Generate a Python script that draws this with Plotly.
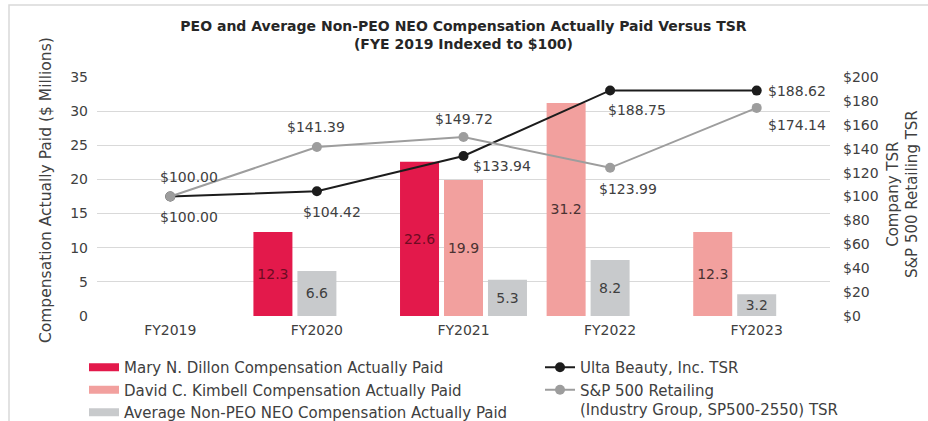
import plotly.graph_objects as go

years = ["FY2019", "FY2020", "FY2021", "FY2022", "FY2023"]

# compensation actually paid ($ millions)
dillon_years = ["FY2020", "FY2021"]
dillon_cap = [12.3, 22.6]
kimbell_years = ["FY2021", "FY2022", "FY2023"]
kimbell_cap = [19.9, 31.2, 12.3]
neo_years = ["FY2020", "FY2021", "FY2022", "FY2023"]
neo_cap = [6.6, 5.3, 8.2, 3.2]

# TSR, FYE 2019 indexed to $100
ulta_tsr = [100.00, 104.42, 133.94, 188.75, 188.62]
sp_tsr = [100.00, 141.39, 149.72, 123.99, 174.14]

# bar layout (category units)
bw = 0.266
step = 0.30
dillon_shift = [-step, -step]
kimbell_shift = [0, -step, -step]
neo_shift = [0, step, 0, 0]

# data label nudges in px
ulta_dx = [19, 15, 38, 27, 40]
ulta_dy = [-20, -21, -10, -20, 0]
sp_dx = [19, -1, 0, 18, 40]
sp_dy = [20, 20, 18, -21, -17]

FONT = "DejaVu Sans"
TXT = "#404040"
C_DILLON = "#E3194B"
C_KIMBELL = "#F2A09E"
C_NEO = "#C8CACC"
C_ULTA = "#1c1c1c"
C_SP = "#9d9d9d"

W, H = 928, 421
L, R, T, B = 97, 98, 77, 105

fig = go.Figure()


def add_bars(xs, ys, shifts, color, tcolor):
    fig.add_trace(go.Bar(
        x=xs, y=ys,
        width=[bw] * len(xs),
        offset=[s - bw / 2 for s in shifts],
        marker=dict(color=color, line=dict(width=0)),
        text=[f"{v:.1f}" for v in ys],
        textposition="inside",
        insidetextanchor="middle",
        textfont=dict(family=FONT, size=14, color=tcolor),
        showlegend=False,
        hoverinfo="x+y",
    ))


add_bars(dillon_years, dillon_cap, dillon_shift, C_DILLON, "#6e0b22")
add_bars(kimbell_years, kimbell_cap, kimbell_shift, C_KIMBELL, "#4a3232")
add_bars(neo_years, neo_cap, neo_shift, C_NEO, "#3f3f3f")

fig.add_trace(go.Scatter(
    x=years, y=ulta_tsr, yaxis="y2", mode="lines+markers",
    line=dict(color=C_ULTA, width=2), marker=dict(color=C_ULTA, size=10),
    name="Ulta Beauty, Inc. TSR", legend="legend2", legendgroup="u",
))
fig.add_trace(go.Scatter(
    x=years, y=sp_tsr, yaxis="y2", mode="lines+markers",
    line=dict(color=C_SP, width=2), marker=dict(color=C_SP, size=10),
    name="S&P 500 Retailing<br>(Industry Group, SP500-2550) TSR",
    legend="legend2", legendgroup="s",
))

# legend entries for bars drawn as thick strokes
for nm, col, grp in [("Mary N. Dillon Compensation Actually Paid", C_DILLON, "a"),
                     ("David C. Kimbell Compensation Actually Paid", C_KIMBELL, "b"),
                     ("Average Non-PEO NEO Compensation Actually Paid", C_NEO, "c")]:
    fig.add_trace(go.Scatter(
        x=[years[0]], y=[None], mode="lines", line=dict(color=col, width=8),
        name=nm, legend="legend", legendgroup=grp, hoverinfo="skip",
    ))

for i, yr in enumerate(years):
    fig.add_annotation(x=yr, y=ulta_tsr[i], yref="y2", text=f"${ulta_tsr[i]:.2f}",
                       showarrow=False, xshift=ulta_dx[i], yshift=ulta_dy[i],
                       font=dict(family=FONT, size=14, color=TXT))
    fig.add_annotation(x=yr, y=sp_tsr[i], yref="y2", text=f"${sp_tsr[i]:.2f}",
                       showarrow=False, xshift=sp_dx[i], yshift=sp_dy[i],
                       font=dict(family=FONT, size=14, color=TXT))

# axis titles
fig.add_annotation(xref="paper", yref="paper", x=(46 - L) / (W - L - R), y=0.527,
                   xanchor="center", yanchor="middle",
                   text="Compensation Actually Paid ($ Millions)", textangle=-90,
                   showarrow=False, font=dict(family=FONT, size=15.5, color=TXT))
fig.add_annotation(xref="paper", yref="paper", x=(903 - L) / (W - L - R), y=0.51,
                   xanchor="center", yanchor="middle",
                   text="Company TSR<br>S&P 500 Retailing TSR", textangle=-90,
                   showarrow=False, font=dict(family=FONT, size=15, color=TXT))

# chart area border
fig.add_shape(type="rect", xref="paper", yref="paper",
              x0=(9 - L) / (W - L - R), x1=1.3,
              y0=1 + (T - 5) / (H - T - B), y1=-0.6,
              line=dict(color="#d9d9d9", width=1.5), layer="below")

fig.update_layout(
    width=W, height=H,
    margin=dict(l=L, r=R, t=T, b=B, autoexpand=False),
    paper_bgcolor="white", plot_bgcolor="white",
    barmode="overlay",
    font=dict(family=FONT, size=14, color=TXT),
    title=dict(
        text="PEO and Average Non-PEO NEO Compensation Actually Paid Versus TSR<br>(FYE 2019 Indexed to $100)",
        x=0.5, xref="paper", y=1 - 31 / H, yanchor="middle",
        font=dict(family=FONT, size=14, weight=700, color="#262626"),
    ),
    xaxis=dict(type="category", categoryorder="array", categoryarray=years,
               range=[-0.5, 4.5], automargin=False,
               showgrid=False, showline=False, ticks="", ticklabelstandoff=4,
               tickfont=dict(size=14, color=TXT)),
    yaxis=dict(range=[0, 35], dtick=5, showgrid=True, gridcolor="#d9d9d9",
               zeroline=False, showline=False, ticks="", ticklabelstandoff=8,
               automargin=False, tickfont=dict(size=14, color=TXT)),
    yaxis2=dict(range=[0, 200], dtick=20, overlaying="y", side="right",
                showgrid=False, zeroline=False, showline=False, ticks="",
                tickprefix="$", ticklabelstandoff=12, automargin=False,
                tickfont=dict(size=14, color=TXT)),
    legend=dict(xref="container", yref="container", x=84 / W, y=1 - 351 / H,
                xanchor="left", yanchor="top", tracegroupgap=0,
                font=dict(size=15, color=TXT), bgcolor="rgba(0,0,0,0)"),
    legend2=dict(xref="container", yref="container", x=540 / W, y=1 - 351 / H,
                 xanchor="left", yanchor="top", tracegroupgap=0, valign="top",
                 font=dict(size=15, color=TXT), bgcolor="rgba(0,0,0,0)"),
)

fig.write_html("out.html", config={"displayModeBar": False},
               post_script="document.body.style.margin='0';")
